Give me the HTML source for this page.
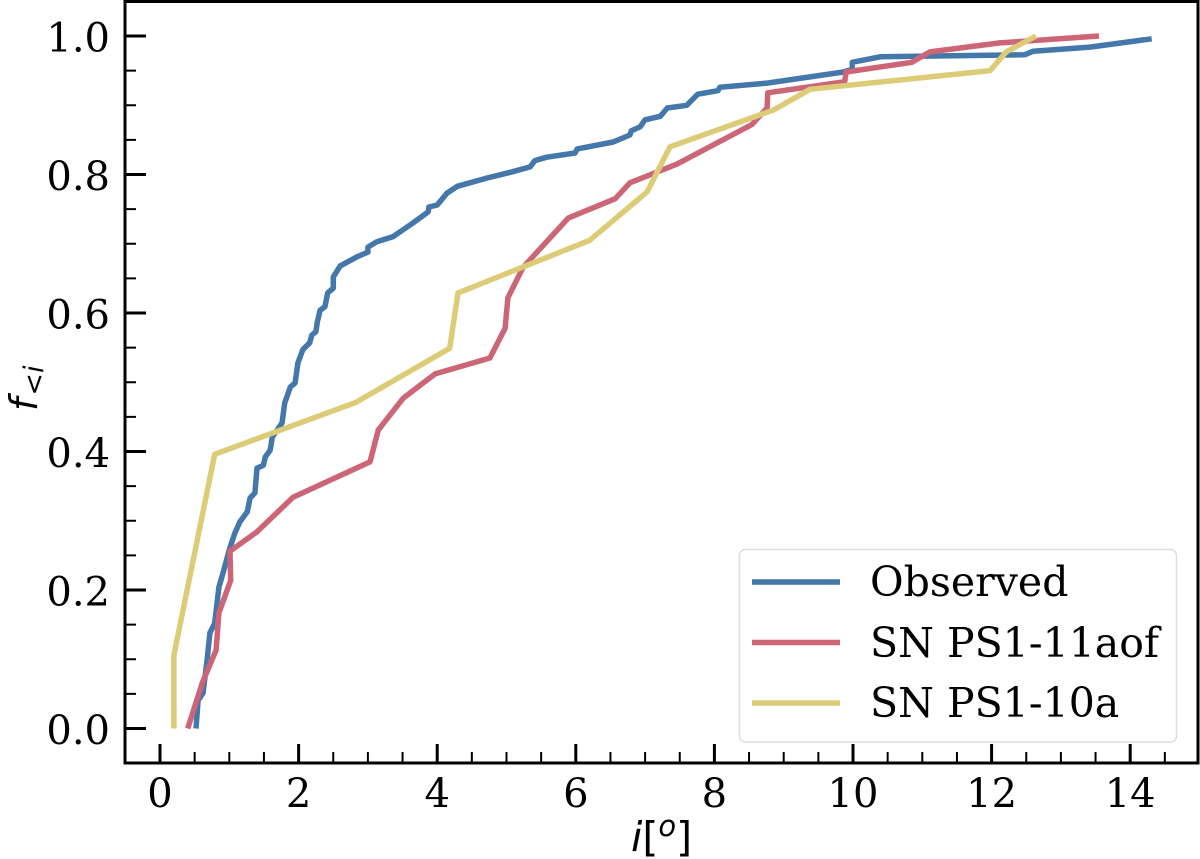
<!DOCTYPE html>
<html lang="en">
<head>
<meta charset="utf-8">
<title>Cumulative inclination distribution</title>
<style>
html,body{margin:0;padding:0;background:#fff;width:1200px;height:859px;overflow:hidden}
svg{display:block}
text{font-family:"DejaVu Serif","Liberation Serif",serif;fill:#000}
.math{font-family:"DejaVu Sans","Liberation Sans",sans-serif}
</style>
</head>
<body>
<svg id="chart" width="1200" height="859" viewBox="0 0 1200 859" xmlns="http://www.w3.org/2000/svg">
  <rect x="0" y="0" width="1200" height="859" fill="#fff"/>
  <g id="ticks"></g>
  <g id="series"></g>
  <g id="legend">
    <rect x="739.5" y="549.5" width="437" height="192.5" rx="6" fill="#fff" fill-opacity="0.8" stroke="#dedede" stroke-width="1.5"/>
    <line x1="752" x2="840" y1="582" y2="582" stroke="#4477AA" stroke-width="5.5"/>
    <text x="870" y="596" font-size="41">Observed</text>
    <line x1="752" x2="840" y1="642.5" y2="642.5" stroke="#CC6677" stroke-width="5.5"/>
    <text x="870" y="657" font-size="41">SN PS1-11aof</text>
    <line x1="752" x2="840" y1="703" y2="703" stroke="#DDCC77" stroke-width="5.5"/>
    <text x="870" y="717" font-size="41">SN PS1-10a</text>
  </g>
  <rect x="125" y="1.5" width="1073" height="761.5" fill="none" stroke="#000" stroke-width="3"/>
  <text class="math" x="631" y="851" font-size="41"><tspan font-style="italic">i</tspan><tspan>[</tspan><tspan font-size="29" font-style="italic" dy="-15">o</tspan><tspan dy="15">]</tspan></text>
  <text class="math" transform="translate(37,411) rotate(-90)" font-size="38"><tspan font-style="italic">f</tspan><tspan font-size="27" dy="6" dx="2">&lt;</tspan><tspan font-size="27" font-style="italic">i</tspan></text>
</svg>
<script>
var xTickLabels = ['0', '2', '4', '6', '8', '10', '12', '14'];
var yTickLabels = ['0.0', '0.2', '0.4', '0.6', '0.8', '1.0'];
var xMinorTicks = [0.5, 1, 1.5, 2.5, 3, 3.5, 4.5, 5, 5.5, 6.5, 7, 7.5, 8.5, 9, 9.5, 10.5, 11, 11.5, 12.5, 13, 13.5, 14.5];
var yMinorTicks = [0.05, 0.1, 0.15, 0.25, 0.3, 0.35, 0.45, 0.5, 0.55, 0.65, 0.7, 0.75, 0.85, 0.9, 0.95];

var observedX = [0.52, 0.55, 0.62, 0.68, 0.72, 0.79, 0.85, 0.91, 1.00, 1.08, 1.15, 1.26, 1.30, 1.37, 1.40, 1.49, 1.52, 1.59, 1.62, 1.76, 1.80, 1.88, 1.95, 1.99, 2.06, 2.16, 2.19, 2.25, 2.27, 2.31, 2.38, 2.42, 2.50, 2.50, 2.60, 2.84, 3.00, 3.00, 3.13, 3.36, 3.46, 3.65, 3.87, 3.88, 4.00, 4.14, 4.29, 4.72, 5.09, 5.34, 5.41, 5.58, 5.99, 6.02, 6.54, 6.78, 6.80, 6.93, 7.00, 7.22, 7.32, 7.60, 7.76, 8.05, 8.08, 8.76, 9.38, 9.86, 9.99, 9.99, 10.39, 12.48, 12.60, 13.42, 14.31];
var observedY = [0.000, 0.041, 0.051, 0.099, 0.138, 0.152, 0.204, 0.225, 0.258, 0.282, 0.298, 0.313, 0.333, 0.340, 0.376, 0.380, 0.392, 0.402, 0.421, 0.441, 0.470, 0.493, 0.499, 0.528, 0.547, 0.557, 0.568, 0.573, 0.587, 0.604, 0.609, 0.629, 0.636, 0.652, 0.668, 0.681, 0.688, 0.695, 0.703, 0.710, 0.717, 0.730, 0.746, 0.753, 0.756, 0.773, 0.783, 0.795, 0.804, 0.811, 0.820, 0.825, 0.831, 0.837, 0.847, 0.857, 0.863, 0.869, 0.879, 0.884, 0.896, 0.900, 0.916, 0.921, 0.926, 0.932, 0.941, 0.948, 0.952, 0.962, 0.970, 0.973, 0.978, 0.984, 0.996];

var aofX = [0.40, 0.61, 0.81, 0.85, 1.02, 1.01, 1.40, 1.92, 3.03, 3.15, 3.51, 3.97, 4.76, 4.98, 5.02, 5.24, 5.89, 6.57, 6.78, 7.46, 8.54, 8.76, 8.77, 9.88, 9.90, 10.85, 11.11, 12.12, 13.55];
var aofY = [0.000, 0.066, 0.113, 0.167, 0.214, 0.256, 0.284, 0.334, 0.385, 0.431, 0.477, 0.512, 0.535, 0.578, 0.622, 0.666, 0.737, 0.765, 0.788, 0.815, 0.872, 0.896, 0.918, 0.934, 0.948, 0.962, 0.977, 0.990, 1.000];

var tenAX = [0.20, 0.20, 0.79, 2.83, 4.18, 4.30, 6.20, 7.03, 7.36, 8.85, 9.38, 11.98, 12.21, 12.64];
var tenAY = [0.000, 0.106, 0.396, 0.471, 0.549, 0.629, 0.705, 0.775, 0.840, 0.893, 0.923, 0.950, 0.977, 1.000];

function xScale(v) { return 160 + 69.3 * v; }
function yScale(v) { return 728.5 - 692.5 * v; }

var NS = 'http://www.w3.org/2000/svg';
var tickGroup = document.getElementById('ticks');
var seriesGroup = document.getElementById('series');

function tickLine(x1, y1, x2, y2, w) {
  var el = document.createElementNS(NS, 'line');
  el.setAttribute('x1', x1);
  el.setAttribute('y1', y1);
  el.setAttribute('x2', x2);
  el.setAttribute('y2', y2);
  el.setAttribute('stroke', '#000');
  el.setAttribute('stroke-width', w);
  tickGroup.appendChild(el);
  return el;
}

function tickText(x, y, anchor, str) {
  var el = document.createElementNS(NS, 'text');
  el.setAttribute('x', x);
  el.setAttribute('y', y);
  el.setAttribute('font-size', '40');
  el.setAttribute('text-anchor', anchor);
  el.textContent = str;
  tickGroup.appendChild(el);
  return el;
}

xTickLabels.forEach(function (label) {
  var px = xScale(parseFloat(label));
  var mark = tickLine(px, 763, px, 744, 3);
  
  
  var txt = tickText(px, 807, 'middle', label);
  
  
});

xMinorTicks.forEach(function (value) {
  var px = xScale(value);
  var mark = tickLine(px, 763, px, 752, 2);
  
  
});

yTickLabels.forEach(function (label) {
  var py = yScale(parseFloat(label));
  var mark = tickLine(125, py, 146, py, 3);
  
  
  var txt = tickText(110, py + 15.5, 'end', label);
  
  
});

yMinorTicks.forEach(function (value) {
  var py = yScale(value);
  var mark = tickLine(125, py, 136, py, 2);
  
  
});

function drawLine(xs, ys, color) {
  var pts = xs.map(function (x, i) {
    return xScale(x).toFixed(1) + ',' + yScale(ys[i]).toFixed(1);
  }).join(' ');
  var el = document.createElementNS(NS, 'polyline');
  el.setAttribute('points', pts);
  el.setAttribute('fill', 'none');
  el.setAttribute('stroke', color);
  el.setAttribute('stroke-width', '5.5');
  el.setAttribute('stroke-linejoin', 'round');
  seriesGroup.appendChild(el);
  return el;
}

var observedLine = drawLine(observedX, observedY, '#4477AA');


var aofLine = drawLine(aofX, aofY, '#CC6677');


var tenALine = drawLine(tenAX, tenAY, '#DDCC77');


</script>
</body>
</html>
